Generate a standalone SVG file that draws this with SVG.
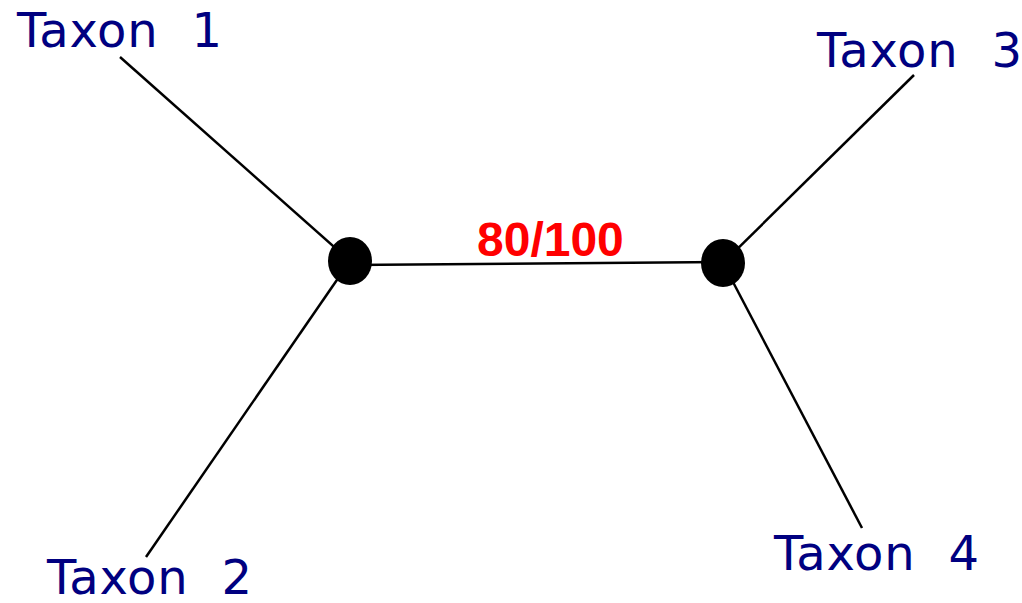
<svg xmlns="http://www.w3.org/2000/svg" width="1022" height="603" viewBox="0 0 1022 603">
<style>
.tx{font-family:"DejaVu Sans",sans-serif;font-size:48px;fill:#000080;letter-spacing:0.8px;word-spacing:17px}
.lbl{font-family:"Liberation Sans",Arial,sans-serif;font-size:48px;font-weight:bold;fill:#ff0000}
.edge{stroke:#000;stroke-width:2.5;fill:none}
</style>
<rect width="1022" height="603" fill="#fff"/>
<g id="connectors">
<line class="edge" x1="120" y1="57" x2="350" y2="261"/>
<line class="edge" x1="146" y1="557" x2="350" y2="261"/>
<line class="edge" x1="350" y1="265" x2="723" y2="262"/>
<line class="edge" x1="914" y1="75" x2="723" y2="263"/>
<line class="edge" x1="862" y1="528" x2="723" y2="263"/>
</g>
<g id="node-left"><ellipse cx="350" cy="261" rx="22" ry="24" fill="#000"/></g>
<g id="node-right"><ellipse cx="723" cy="263" rx="22" ry="24" fill="#000"/></g>
<g id="label-80-100"><text class="lbl" x="477" y="256">80/100</text></g>
<g id="taxon1"><text class="tx" x="17" y="47" xml:space="preserve">Taxon 1</text></g>
<g id="taxon2"><text class="tx" x="47" y="594" xml:space="preserve">Taxon 2</text></g>
<g id="taxon3"><text class="tx" x="817" y="67" xml:space="preserve">Taxon 3</text></g>
<g id="taxon4"><text class="tx" x="774" y="570" xml:space="preserve">Taxon 4</text></g>
</svg>
